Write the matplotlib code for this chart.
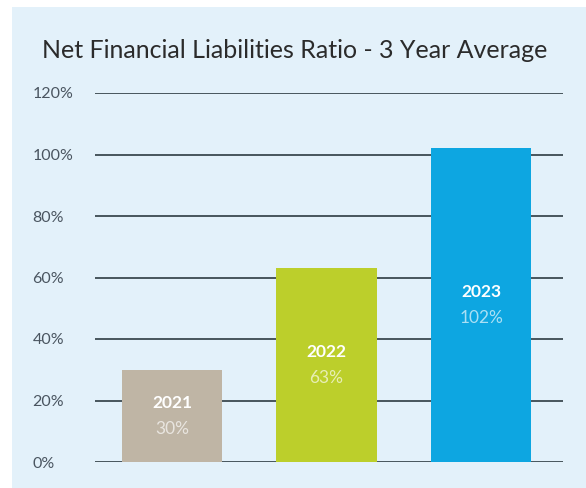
import matplotlib.pyplot as plt
from matplotlib.patches import Rectangle

years = ['2021', '2022', '2023']
ratios = [30, 63, 102]
colors = ['#bfb5a5', '#bccf2b', '#0da6e1']
ticks = [0, 20, 40, 60, 80, 100, 120]

plt.rcParams['font.family'] = ['Lato', 'DejaVu Sans']

fig = plt.figure(figsize=(5.86, 4.88), dpi=100)
fig.patch.set_facecolor('white')
fig.patches.append(Rectangle((12 / 586, 0), 1, 1 - 7 / 488, transform=fig.transFigure,
                             facecolor='#e3f1fa', edgecolor='none', zorder=-10))

ax = fig.add_axes([95 / 586, 1 - 462 / 488, 468 / 586, (462 - 93) / 488])
ax.patch.set_alpha(0)

x = range(len(years))
ax.bar(x, ratios, width=0.65, color=colors, zorder=3)
ax.set_xlim(-0.498, 2.53)
ax.set_ylim(0, 120)
ax.set_yticks(ticks)
ax.set_yticklabels([f'{t}%' for t in ticks])
ax.grid(axis='y', color='#47555c', linewidth=1.4)
ax.set_axisbelow(True)
ax.set_xticks([])
for s in ax.spines.values():
    s.set_visible(False)
ax.tick_params(axis='y', length=0, pad=45, labelsize=11.5, labelcolor='#4a5560')
for lab in ax.get_yticklabels():
    lab.set_ha('left')

# year and value sit around the middle of each bar
for i, (yr, r) in enumerate(zip(years, ratios)):
    ax.text(i, r / 2 + 4.2, yr, ha='center', va='center', color='white',
            fontsize=12.5, fontweight='bold', zorder=4)
    ax.text(i, r / 2 - 4.3, f'{r}%', ha='center', va='center', color='white',
            alpha=0.65, fontsize=12.5, zorder=4)

fig.text(295 / 586, 1 - 51 / 488, 'Net Financial Liabilities Ratio - 3 Year Average',
         ha='center', va='center', fontsize=18, color='#2b2b2b')

fig.savefig('out.png', dpi=100)
